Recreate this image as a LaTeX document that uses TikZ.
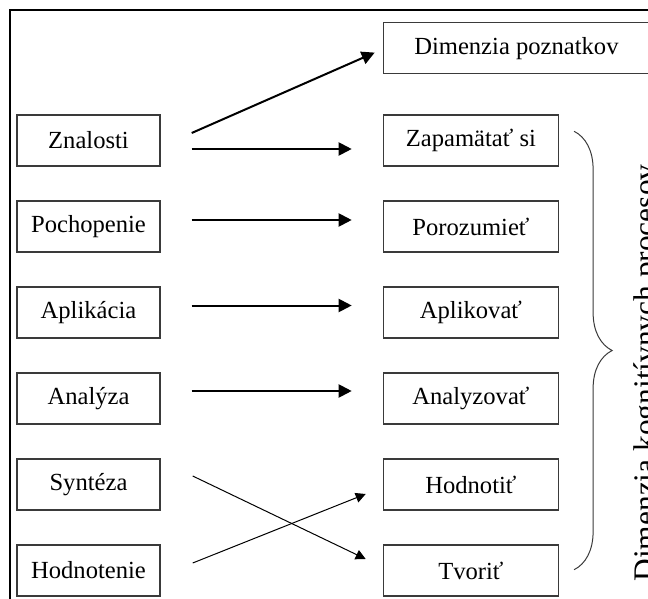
\documentclass[tikz,border=0pt]{standalone}
\usepackage{fontspec}
\setmainfont{Liberation Serif}
\usepackage{tikz}
\usetikzlibrary{arrows.meta, positioning, decorations.pathreplacing}
\definecolor{boxline}{HTML}{3a3a3a}

\begin{document}
\begin{tikzpicture}[
    x=0.5pt, y=-0.5pt,
    node distance=16.8pt and 111pt,
    oldbox/.style={rectangle, draw=boxline, line width=0.7pt, minimum width=71.5pt, minimum height=25.5pt, inner sep=0pt, font=\fontsize{12.3}{14}\selectfont},
    newbox/.style={oldbox, minimum width=87.5pt},
    arrow/.style={-{Triangle[length=6.5pt, width=6.5pt]}, line width=1pt},
    thinarrow/.style={-{Triangle[length=5pt, width=5pt]}, line width=0.5pt}
]
\useasboundingbox (0,0) rectangle (648,599);
\draw[line width=0.6pt] (10,620) -- (10,10) -- (670,10);

\node[oldbox] (znalosti) at (88.5,140.5) {Znalosti};
\node[oldbox, below=of znalosti] (pochopenie) {Pochopenie};
\node[oldbox, below=of pochopenie] (aplikacia) {Aplikácia};
\node[oldbox, below=of aplikacia] (analyza) {Analýza};
\node[oldbox, below=of analyza] (synteza) {Syntéza};
\node[oldbox, below=of synteza] (hodnotenie) {Hodnotenie};

\node[newbox, right=of znalosti] (zapamatat) {Zapamätať si};
\node[newbox, right=of pochopenie] (porozumiet) {Porozumieť};
\node[newbox, right=of aplikacia] (aplikovat) {Aplikovať};
\node[newbox, right=of analyza] (analyzovat) {Analyzovať};
\node[newbox, right=of synteza] (hodnotit) {Hodnotiť};
\node[newbox, right=of hodnotenie] (tvorit) {Tvoriť};
\node[newbox, minimum width=133pt, above=20pt of zapamatat.north west, anchor=south west] (poznatky) {Dimenzia poznatkov};

\draw[arrow] ([xshift=15.5pt, yshift=3.75pt]znalosti.east) -- ([xshift=-4pt, yshift=-2.25pt]poznatky.west);
\draw[arrow] ([xshift=15.5pt, yshift=-4.25pt]znalosti.east) -- ([xshift=-15.5pt, yshift=-4.25pt]zapamatat.west);
\draw[arrow] ([xshift=15.5pt, yshift=3.25pt]pochopenie.east) -- ([xshift=-15.5pt, yshift=3.25pt]porozumiet.west);
\draw[arrow] ([xshift=15.5pt, yshift=3.5pt]aplikacia.east) -- ([xshift=-15.5pt, yshift=3.5pt]aplikovat.west);
\draw[arrow] ([xshift=15.5pt, yshift=3.75pt]analyza.east) -- ([xshift=-15.5pt, yshift=3.75pt]analyzovat.west);
\draw[thinarrow] ([xshift=16pt, yshift=4.25pt]synteza.east) -- ([xshift=-8.5pt, yshift=5.75pt]tvorit.west);
\draw[thinarrow] ([xshift=16pt, yshift=3.75pt]hodnotenie.east) -- ([xshift=-8.5pt, yshift=-4.75pt]hodnotit.west);

\coordinate[right=7.5pt of zapamatat.north east, yshift=-8.5pt] (bracetop);
\coordinate[right=7.5pt of tvorit.south east, yshift=13.5pt] (bracebottom);
\draw[boxline, line width=0.5pt, decorate, decoration={brace, amplitude=19pt}] (bracetop) -- (bracebottom);

\node[rotate=90, anchor=north, inner sep=0pt, font=\fontsize{15.7}{18}\selectfont] (procesy) at (633,373) {Dimenzia kognitívnych procesov};
\end{tikzpicture}
\end{document}
